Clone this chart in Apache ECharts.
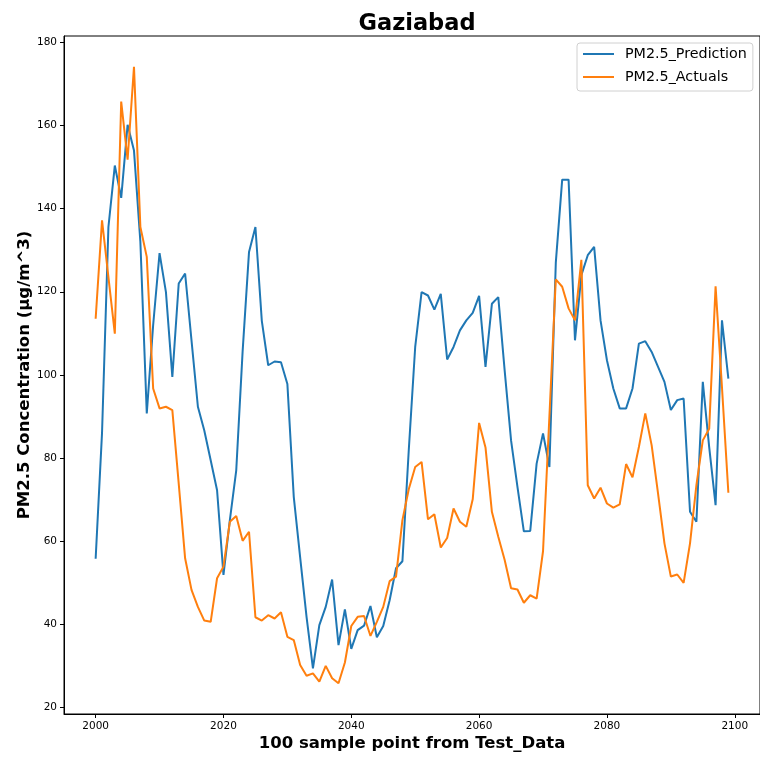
<!DOCTYPE html>
<html>
<head>
<meta charset="utf-8">
<script src="https://cdn.jsdelivr.net/npm/echarts@6/dist/echarts.min.js"></script>
<style>
  html, body { margin: 0; padding: 0; background: #fff; }
  #chart { width: 760px; height: 757px; }
</style>
</head>
<body>
<div id="chart"></div>
<script>
// Sample positions of the 100 test points
const sampleStart = 2000;
const sampleCount = 100;
const sampleIndex = Array.from({ length: sampleCount }, (_, i) => sampleStart + i);

// Model output for each sample (µg/m^3)
const predicted = [
  55.7, 86, 135.6, 150.4, 142.6, 160.2, 154, 132, 90.7, 112,
  129.3, 119.9, 99.5, 122, 124.4, 108.3, 92.3, 86.6, 79.4, 72.2,
  51.8, 65, 77, 105.7, 129.6, 135.6, 113, 102.3, 103.2, 103,
  97.8, 70.6, 56, 41.7, 29.3, 39.7, 44.1, 50.7, 34.9, 43.5,
  34, 38.5, 39.6, 44.3, 36.8, 39.5, 45.7, 53.4, 55.1, 82,
  106.7, 119.9, 119.1, 115.7, 119.5, 103.7, 106.7, 110.7, 113.1, 114.9,
  119, 101.9, 117.1, 118.7, 101, 84.2, 73, 62.3, 62.4, 78.6,
  85.9, 77.8, 127, 147, 147, 108.3, 124, 128.8, 130.8, 113.1,
  103.5, 96.7, 91.9, 91.9, 96.7, 107.5, 108.1, 105.5, 101.9, 98.3,
  91.5, 93.9, 94.3, 67, 64.6, 98.3, 82.6, 68.6, 113.1, 99.1
];

// Measured values for the same samples (µg/m^3)
const actual = [
  113.5, 137.2, 123.5, 109.9, 165.8, 151.8, 174.2, 135.6, 128.4, 96.7,
  91.9, 92.3, 91.5, 73.8, 55.8, 48.2, 44.1, 40.8, 40.5, 51,
  53.8, 64.6, 66, 60, 62.2, 41.6, 40.8, 42.1, 41.3, 42.8,
  36.9, 36.1, 30.1, 27.5, 28.1, 26.1, 29.9, 26.9, 25.7, 30.7,
  39.5, 41.7, 41.9, 37.1, 40.5, 44.1, 50.3, 51.4, 65, 72.5,
  77.8, 79, 65.2, 66.4, 58.4, 60.7, 67.8, 64.6, 63.4, 70,
  88.4, 82.5, 67, 61, 55.4, 48.6, 48.3, 45.1, 46.9, 46.1,
  57.5, 90, 123, 121.2, 116, 113.1, 127.7, 73.4, 70.2, 72.8,
  69, 68, 68.8, 78.5, 75.3, 82.6, 90.7, 83, 71.4, 59.4,
  51.4, 51.9, 49.9, 59.4, 73.4, 84.2, 87, 121.3, 97, 71.6
];

const xTicks = [2000, 2020, 2040, 2060, 2080, 2100];
const yTicks = [20, 40, 60, 80, 100, 120, 140, 160, 180];

const FONT = 'DejaVu Sans';
const pair = (vals) => sampleIndex.map((x, i) => [x, vals[i]]);
const plain = (v) => String(Math.round(v));

const chart = echarts.init(document.getElementById('chart'), null, { renderer: 'canvas' });

chart.setOption({
  animation: false,
  backgroundColor: '#fff',
  title: {
    text: 'Gaziabad',
    left: 412,
    textAlign: 'center',
    top: 8,
    textStyle: { fontFamily: FONT, fontWeight: 'bold', fontSize: 22.5, color: '#000' }
  },
  grid: {
    left: 64, top: 36, width: 697, height: 678,
    show: true, borderColor: '#000', borderWidth: 1, backgroundColor: 'transparent'
  },
  legend: {
    orient: 'vertical',
    left: 577,
    top: 43,
    padding: [4, 6, 7, 5],
    itemWidth: 31,
    itemHeight: 14,
    itemGap: 9,
    backgroundColor: '#fff',
    borderColor: '#d0d0d0',
    borderWidth: 1,
    borderRadius: 3,
    itemStyle: { color: 'rgba(0,0,0,0)', borderColor: 'rgba(0,0,0,0)', borderWidth: 0 },
    lineStyle: { width: 2 },
    textStyle: { fontFamily: FONT, fontSize: 14.3, color: '#000', padding: [0, 0, 0, 6] },
    data: ['PM2.5_Prediction', 'PM2.5_Actuals']
  },
  xAxis: {
    type: 'value',
    min: 1995.05,
    max: 2103.95,
    name: '100 sample point from Test_Data',
    nameLocation: 'middle',
    nameGap: 21,
    nameMoveOverlap: false,
    nameTextStyle: { fontFamily: FONT, fontWeight: 'bold', fontSize: 16.5, color: '#000' },
    axisLine: { show: true, onZero: false, lineStyle: { color: '#000', width: 1 } },
    axisTick: { show: true, inside: false, length: 4, customValues: xTicks, lineStyle: { color: '#000' } },
    axisLabel: { customValues: xTicks, formatter: plain, margin: 7, fontFamily: FONT, fontSize: 10.5, color: '#000' },
    splitLine: { show: false }
  },
  yAxis: {
    type: 'value',
    min: 18.3,
    max: 181.6,
    name: 'PM2.5 Concentration (μg/m^3)',
    nameLocation: 'middle',
    nameGap: 31,
    nameMoveOverlap: false,
    nameTextStyle: { fontFamily: FONT, fontWeight: 'bold', fontSize: 16.5, color: '#000' },
    axisLine: { show: true, onZero: false, lineStyle: { color: '#000', width: 1 } },
    axisTick: { show: true, inside: false, length: 4, customValues: yTicks, lineStyle: { color: '#000' } },
    axisLabel: { customValues: yTicks, formatter: plain, margin: 7, fontFamily: FONT, fontSize: 10.5, color: '#000' },
    splitLine: { show: false }
  },
  series: [
    {
      name: 'PM2.5_Prediction',
      type: 'line',
      data: pair(predicted),
      symbol: 'none',
      color: '#1f77b4',
      lineStyle: { width: 2, color: '#1f77b4' },
      z: 2
    },
    {
      name: 'PM2.5_Actuals',
      type: 'line',
      data: pair(actual),
      symbol: 'none',
      color: '#ff7f0e',
      lineStyle: { width: 2, color: '#ff7f0e' },
      z: 3
    }
  ]
});
</script>
</body>
</html>
